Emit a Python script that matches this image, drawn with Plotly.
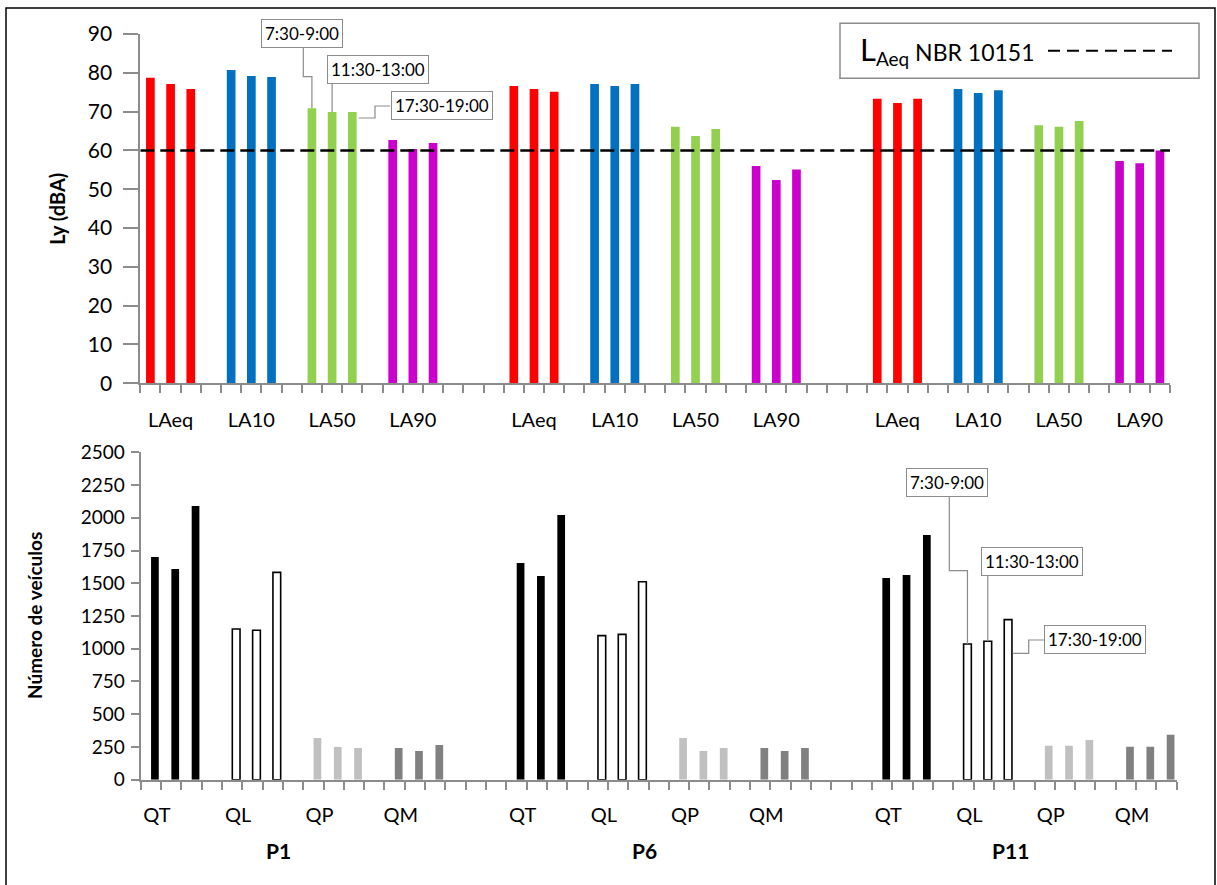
import plotly.graph_objects as go

# ---------------- data ----------------
pontos = ["P1", "P6", "P11"]
indicadores = ["LAeq", "LA10", "LA50", "LA90"]
fluxos = ["QT", "QL", "QP", "QM"]
periodos = ["7:30-9:00", "11:30-13:00", "17:30-19:00"]

# each list: P1 (3 periods), P6 (3 periods), P11 (3 periods)
laeq = [78.7, 77.1, 75.8, 76.6, 75.8, 75.1, 73.3, 72.2, 73.3]
la10 = [80.7, 79.2, 78.9, 77.1, 76.6, 77.1, 75.8, 74.8, 75.5]
la50 = [70.9, 69.9, 69.9, 66.1, 63.7, 65.5, 66.5, 66.1, 67.6]
la90 = [62.7, 60.4, 61.9, 56.0, 52.4, 55.1, 57.3, 56.7, 60.0]
limite_nbr = 60

qt = [1700, 1609, 2090, 1655, 1556, 2021, 1540, 1563, 1868]
ql = [1151, 1141, 1583, 1100, 1110, 1512, 1036, 1057, 1222]
qp = [318, 250, 242, 318, 219, 242, 260, 260, 303]
qm = [242, 219, 265, 242, 219, 242, 252, 252, 344]

y_ticks_top = list(range(0, 91, 10))
y_ticks_bot = list(range(0, 2501, 250))

# ---------------- layout geometry (pixels) ----------------
W, H = 1217, 885
FONT = "Lato, 'Open Sans', sans-serif"
TX0, TX1, TY0, TY1 = 140.3, 1170.0, 383.3, 34.0
BX0, BX1, BY0, BY1 = 140.7, 1176.7, 779.7, 452.3
NSLOT = 51
XR = [-0.5, NSLOT - 0.5]
BOT_SHIFT = 0.2
GRAY = "#8c8c8c"


def pxx(v):
    return v / W


def pxy(v):
    return 1 - v / H


def slot(p, c, k):
    return p * 18 + c * 4 + k


def xs(c):
    return [slot(p, c, k) for p in range(3) for k in range(3)]


def top_px(xd, yd):
    return (TX0 + (xd - XR[0]) / NSLOT * (TX1 - TX0), TY0 + yd / 90 * (TY1 - TY0))


def bot_px(xd, yd):
    return (BX0 + (xd - XR[0]) / NSLOT * (BX1 - BX0), BY0 + yd / 2500 * (BY1 - BY0))


fig = go.Figure()

cores_ruido = ["#FF0000", "#0070C0", "#92D050", "#CC00CC"]
for c, vals in enumerate([laeq, la10, la50, la90]):
    fig.add_trace(go.Bar(x=xs(c), y=vals, width=0.43, marker=dict(color=cores_ruido[c], line=dict(width=0)),
                         xaxis="x", yaxis="y", name=indicadores[c]))

fig.add_trace(go.Scatter(x=XR, y=[limite_nbr, limite_nbr], mode="lines",
                         line=dict(color="black", width=2.5, dash="14px,6px"),
                         xaxis="x", yaxis="y", name="NBR 10151"))

cores_fluxo = ["#000000", "#FFFFFF", "#C0C0C0", "#808080"]
for c, vals in enumerate([qt, ql, qp, qm]):
    line = dict(color="black", width=1.6) if c == 1 else dict(width=0)
    fig.add_trace(go.Bar(x=[v + BOT_SHIFT for v in xs(c)], y=vals, width=0.38,
                         marker=dict(color=cores_fluxo[c], line=line),
                         xaxis="x2", yaxis="y2", name=fluxos[c]))

minor_ticks = dict(tickmode="array", tickvals=[i - 0.5 for i in range(NSLOT + 1)],
                   ticks="outside", ticklen=8, tickwidth=1.5, tickcolor=GRAY)

xcommon = dict(range=XR, showline=True, linecolor=GRAY, linewidth=2, showgrid=False, zeroline=False,
               tickmode="array", ticks="outside", ticklen=8, tickcolor="rgba(0,0,0,0)",
               tickfont=dict(size=20, color="black", family=FONT), minor=minor_ticks, fixedrange=True,
               automargin=False)

fig.update_layout(
    width=W, height=H, autosize=False,
    margin=dict(l=0, r=0, t=0, b=0, pad=0, autoexpand=False),
    paper_bgcolor="white", plot_bgcolor="white",
    showlegend=False, barmode="overlay",
    font=dict(family=FONT, color="black"),
    xaxis=dict(domain=[pxx(TX0), pxx(TX1)], anchor="y",
               tickvals=[slot(p, c, 1) for p in range(3) for c in range(4)],
               ticktext=indicadores * 3, ticklabelstandoff=10, **xcommon),
    yaxis=dict(domain=[pxy(TY0), pxy(TY1)], anchor="x", range=[0, 90], tickvals=y_ticks_top,
               showline=True, linecolor=GRAY, linewidth=2, showgrid=False, zeroline=False,
               ticks="outside", ticklen=15, tickwidth=1.5, tickcolor=GRAY, ticklabelstandoff=7,
               tickfont=dict(size=21, color="black", family=FONT), fixedrange=True, automargin=False),
    xaxis2=dict(domain=[pxx(BX0), pxx(BX1)], anchor="y2",
                tickvals=[slot(p, c, 0) + 0.3 for p in range(3) for c in range(4)],
                ticktext=fluxos * 3, ticklabelstandoff=8, **xcommon),
    yaxis2=dict(domain=[pxy(BY0), pxy(BY1)], anchor="x2", range=[0, 2500], tickvals=y_ticks_bot,
                showline=True, linecolor=GRAY, linewidth=2, showgrid=False, zeroline=False,
                ticks="outside", ticklen=8, tickwidth=1.5, tickcolor=GRAY, ticklabelstandoff=2,
                tickfont=dict(size=19, color="black", family=FONT), fixedrange=True, automargin=False),
)

annotations = []
shapes = []

# axis titles
annotations.append(dict(x=pxx(57), y=pxy((TY0 + TY1) / 2), xref="paper", yref="paper", text="<b>Ly (dBA)</b>",
                        textangle=-90, showarrow=False, font=dict(size=20, family=FONT, color="black"),
                        xanchor="center", yanchor="middle"))
annotations.append(dict(x=pxx(34), y=pxy((BY0 + BY1) / 2), xref="paper", yref="paper",
                        text="<b>Número de veículos</b>", textangle=-90, showarrow=False,
                        font=dict(size=19, family=FONT, color="black"), xanchor="center", yanchor="middle"))

# point labels
for p, nome in enumerate(pontos):
    xp, _ = bot_px(slot(p, 1, 2) + 0.3, 0)
    annotations.append(dict(x=pxx(xp), y=pxy(850), xref="paper", yref="paper", text="<b>%s</b>" % nome,
                            showarrow=False, font=dict(size=21, family=FONT, color="black"),
                            xanchor="center", yanchor="middle"))

# legend box
shapes.append(dict(type="rect", xref="paper", yref="paper", x0=pxx(840), x1=pxx(1199), y0=pxy(23.3), y1=pxy(78.3),
                   line=dict(color=GRAY, width=1.5), fillcolor="white", layer="above"))
annotations.append(dict(x=pxx(858), y=pxy(50), xref="paper", yref="paper", xanchor="left", yanchor="middle",
                        showarrow=False, font=dict(size=23, family=FONT, color="black"),
                        text="<span style='font-size:31px'>L</span><sub><span style='font-size:19px'>Aeq</span></sub> NBR 10151"))
shapes.append(dict(type="line", xref="paper", yref="paper", x0=pxx(1048), x1=pxx(1172), y0=pxy(50.7), y1=pxy(50.7),
                   line=dict(color="black", width=2, dash="12px,7px")))


def path(points):
    return "M " + " L ".join("%.5f,%.5f" % (pxx(a), pxy(b)) for a, b in points)


def box(text, cx, cy):
    annotations.append(dict(x=pxx(cx), y=pxy(cy), xref="paper", yref="paper", text=text, showarrow=False,
                            font=dict(size=17, family=FONT, color="black"), bgcolor="white",
                            bordercolor=GRAY, borderwidth=1, borderpad=3, xanchor="center", yanchor="middle"))


def leader(points):
    shapes.append(dict(type="path", xref="paper", yref="paper", path=path(points),
                       line=dict(color=GRAY, width=1.2)))


# callouts top (P1, LA50)
b0 = top_px(slot(0, 2, 0), la50[0])
b1 = top_px(slot(0, 2, 1), la50[1])
b2 = top_px(slot(0, 2, 2), la50[2])
leader([b0, (b0[0], 76.7), (303.3, 76.7), (303.3, 46.7)])
leader([b1, (b1[0], 83.3)])
leader([(b2[0] + 6.5, b2[1] + 6), (375, b2[1] + 6), (375, 106), (390, 106)])
box(periodos[0], 302, 33.5)
box(periodos[1], 378, 69.5)
box(periodos[2], 442, 105.5)

# callouts bottom (P11, QL)
c0 = bot_px(slot(2, 1, 0) + BOT_SHIFT, ql[6])
c1 = bot_px(slot(2, 1, 1) + BOT_SHIFT, ql[7])
c2 = bot_px(slot(2, 1, 2) + BOT_SHIFT, ql[8])
leader([c0, (c0[0], 570.7), (949.3, 570.7), (949.3, 496.7)])
leader([c1, (c1[0], 575.7)])
leader([(c2[0] + 4.5, 653.3), (1028.7, 653.3), (1028.7, 640), (1044, 640)])
box(periodos[0], 947, 482.5)
box(periodos[1], 1031.5, 561.7)
box(periodos[2], 1094.5, 639.5)

# outer frame
shapes.append(dict(type="rect", xref="paper", yref="paper", x0=pxx(6), x1=pxx(1215), y0=pxy(8), y1=-0.02,
                   line=dict(color="black", width=1.5), fillcolor="rgba(0,0,0,0)"))

fig.update_layout(annotations=annotations, shapes=shapes)
fig.write_html("out.html", config={"displayModeBar": False},
               post_script="document.body.style.margin='0';document.body.style.overflow='hidden';")
